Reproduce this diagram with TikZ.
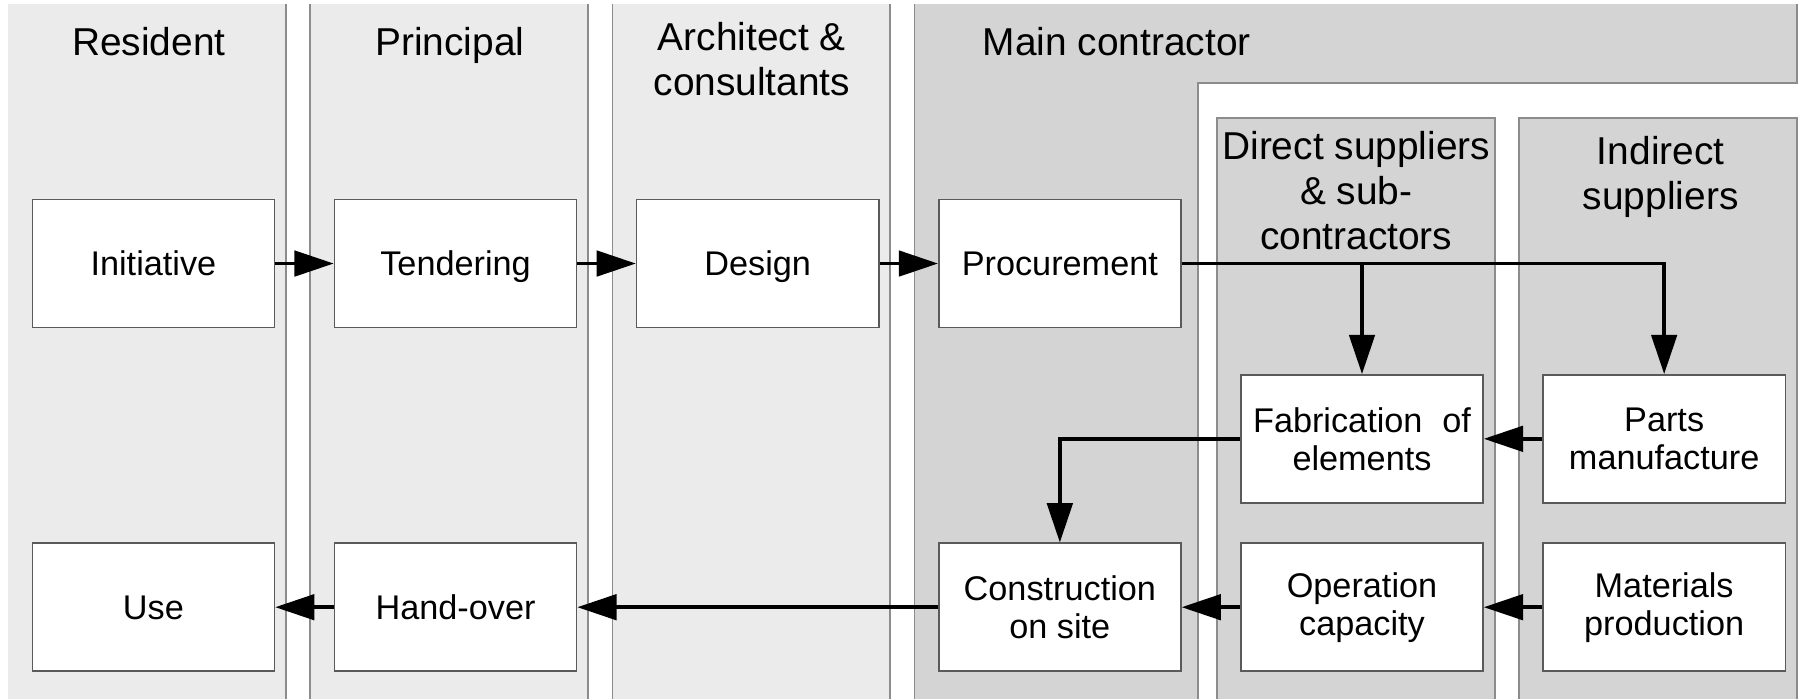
\documentclass[tikz,border=0pt]{standalone}
\usepackage{fontspec}
\setmainfont{Liberation Sans}
\usetikzlibrary{arrows.meta}
\definecolor{lightcol}{HTML}{EBEBEB}
\definecolor{darkcol}{HTML}{D4D4D4}
\definecolor{colborder}{HTML}{8C8C8C}
\definecolor{boxborder}{HTML}{5A5A5A}
\begin{document}
\begin{tikzpicture}[x=1pt,y=-1pt,
  colline/.style={draw=colborder,line width=1.5pt},
  procbox/.style={draw=boxborder,line width=1.3pt,fill=white,minimum width=210pt,minimum height=111pt,inner sep=0pt,align=center,font=\fontsize{29.7}{33}\selectfont},
  oneline/.style={text height=21.6pt,text depth=0pt},
  title/.style={inner sep=0pt,align=center,font=\fontsize{33.7}{39}\selectfont},
  arr/.style={line width=3.2pt,-{Triangle[length=34pt,width=22pt]}}]
\useasboundingbox (0,0) rectangle (1566,606);
\begin{scope}
\clip (0,0) rectangle (1566,606);
% light columns
\fill[lightcol] (7,3.5) rectangle (248,610);
\fill[lightcol] (269,3.5) rectangle (510,610);
\fill[lightcol] (531,3.5) rectangle (772,610);
\draw[colline] (248,3.5) -- (248,610);
\draw[colline] (269,3.5) -- (269,610) (510,3.5) -- (510,610);
\draw[colline] (531,3.5) -- (531,610) (772,3.5) -- (772,610);
% main contractor L-shape
\fill[darkcol] (793,3.5) -- (1558,3.5) -- (1558,72) -- (1039,72) -- (1039,610) -- (793,610) -- cycle;
\draw[colline] (793,3.5) -- (793,610);
\draw[colline] (1558,3.5) -- (1558,72) -- (1039,72) -- (1039,610);
% supplier columns
\fill[darkcol] (1055,102) rectangle (1296,610);
\fill[darkcol] (1317,102) rectangle (1558,610);
\draw[colline] (1055,610) -- (1055,102) -- (1296,102) -- (1296,610);
\draw[colline] (1317,610) -- (1317,102) -- (1558,102) -- (1558,610);
\end{scope}
% titles
\node[title,anchor=base] (tres) at (129,47.7) {Resident};
\node[title,anchor=base] (tpri) at (390,47.7) {Principal};
\node[title,anchor=north] (tarc) at (652,18.8) {Architect \&\\consultants};
\node[title,anchor=base west] (tmain) at (852,47.7) {Main contractor};
\node[title,anchor=north] (tdir) at (1176,113.4) {Direct suppliers\\\& sub-\\contractors};
\node[title,anchor=north] (tind) at (1440,118.4) {Indirect\\suppliers};
% boxes
\node[procbox,oneline] (init) at (133,228.5) {Initiative};
\node[procbox,oneline] (tend) at (395,228.5) {Tendering};
\node[procbox,oneline] (design) at (657,228.5) {Design};
\node[procbox,oneline] (proc) at (919,228.5) {Procurement};
\node[procbox] (fab) at (1181,380.5) {Fabrication\hspace{0.58em}of\\elements};
\node[procbox] (parts) at (1443,380.5) {Parts\\manufacture};
\node[procbox,oneline] (use) at (133,526.5) {Use};
\node[procbox,oneline] (hand) at (395,526.5) {Hand-over};
\node[procbox] (cons) at (919,526.5) {Construction\\on site};
\node[procbox] (oper) at (1181,526.5) {Operation\\capacity};
\node[procbox] (mat) at (1443,526.5) {Materials\\production};
% connectors
\draw[arr] (init) -- (tend);
\draw[arr] (tend) -- (design);
\draw[arr] (design) -- (proc);
\draw[arr] (proc.east) -| (parts.north);
\draw[arr] (proc.east -| fab.north) -- (fab.north);
\draw[arr] (parts) -- (fab);
\draw[arr] (fab.west) -| (cons.north);
\draw[arr] (mat) -- (oper);
\draw[arr] (oper) -- (cons);
\draw[arr] (cons) -- (hand);
\draw[arr] (hand) -- (use);
\end{tikzpicture}
\end{document}
